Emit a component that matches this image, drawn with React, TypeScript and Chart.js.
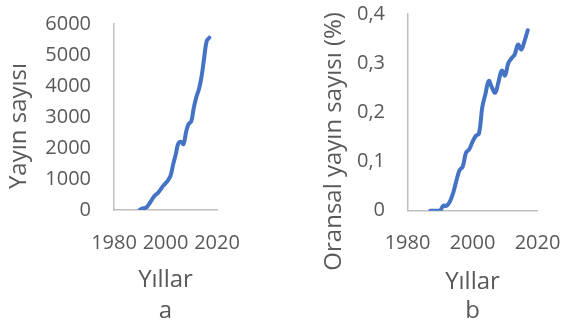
import React, { useEffect, useRef } from "react";
import { Chart, registerables } from "chart.js";

Chart.register(...registerables);

// ---- data ----
const yearsA = [1990, 1991, 1992, 1993, 1994, 1995, 1996, 1997, 1998, 1999, 2000, 2001, 2002, 2003, 2004, 2005, 2006, 2007, 2008, 2009, 2010, 2011, 2012, 2013, 2014, 2015, 2016, 2017];
const valuesA = [0, 50, 60, 120, 240, 370, 480, 545, 650, 770, 860, 960, 1120, 1480, 1800, 2150, 2200, 2130, 2520, 2780, 2860, 3300, 3650, 3900, 4300, 4900, 5450, 5560];

const yearsB = [1987, 1988, 1989, 1990, 1991, 1992, 1993, 1994, 1995, 1996, 1997, 1998, 1999, 2000, 2001, 2002, 2003, 2004, 2005, 2006, 2007, 2008, 2009, 2010, 2011, 2012, 2013, 2014, 2015, 2016, 2017];
const valuesB = [0, 0, 0, 0, 0.01, 0.01, 0.018, 0.035, 0.06, 0.082, 0.09, 0.118, 0.125, 0.14, 0.152, 0.157, 0.21, 0.238, 0.264, 0.25, 0.24, 0.262, 0.285, 0.275, 0.3, 0.31, 0.318, 0.338, 0.328, 0.345, 0.367];

const xAxisMin = 1980;
const xAxisMax = 2020;
const xAxisStep = 20;
const yMaxA = 6000;
const yStepA = 1000;
const yMaxB = 0.4;
const yStepB = 0.1;

const xTitle = "Yıllar";
const yTitleA = "Yayın sayısı";
const yTitleB = "Oransal yayın sayısı (%)";
const captionA = "a";
const captionB = "b";

// ---- style ----
const FONT = '"Open Sans", sans-serif';
const TEXT = "#595959";
const AXIS = "#bfbfbf";
const LINE = "#4472c4";
const TICK_SIZE = 20;
const TITLE_SIZE = 24;

Chart.defaults.font.family = FONT;
Chart.defaults.color = TEXT;

// shifts the built-in y-axis title vertically (Excel places it off-centre)
const titleShift = {
  id: "titleShift",
  beforeDraw(chart: any, _args: any, opts: any) {
    const scale: any = chart.scales.y;
    if (!scale || scale.__shifted) return;
    const orig = scale.drawTitle.bind(scale);
    scale.drawTitle = () => {
      const ctx = chart.ctx;
      ctx.save();
      ctx.translate(0, opts.dy || 0);
      orig();
      ctx.restore();
    };
    scale.__shifted = true;
  },
};

const noOverflow = (s: any) => {
  s.paddingTop = 0;
  s.paddingBottom = 0;
  s.paddingLeft = 0;
  s.paddingRight = 0;
};

type Cfg = {
  years: number[];
  values: number[];
  yMax: number;
  yStep: number;
  yTitle: string;
  caption: string;
  yWidth: number;
  xHeight: number;
  padTop: number;
  padRight: number;
  xTickPad: number;
  yTickPad: number;
  yTitlePad: number;
  capPad: number;
  titleDy: number;
  fmt: (v: number) => string;
};

function makeChart(canvas: HTMLCanvasElement, c: Cfg) {
  return new Chart(canvas, {
    type: "line",
    data: {
      datasets: [
        {
          data: c.years.map((y, i) => ({ x: y, y: c.values[i] })),
          borderColor: LINE,
          borderWidth: 4,
          pointRadius: 0,
          tension: 0.4,
          borderCapStyle: "round",
          borderJoinStyle: "round",
          fill: false,
        },
      ],
    },
    options: {
      animation: false,
      responsive: false,
      layout: { padding: { left: 0, top: c.padTop, right: c.padRight, bottom: 0 } },
      scales: {
        x: {
          type: "linear",
          min: xAxisMin,
          max: xAxisMax,
          grid: { display: false, drawTicks: false },
          border: { display: true, color: AXIS, width: 1.5 },
          ticks: { stepSize: xAxisStep, padding: c.xTickPad, font: { size: TICK_SIZE }, color: TEXT, maxRotation: 0, minRotation: 0, autoSkip: false, callback: (v: any) => String(v) },
          title: { display: true, text: xTitle, font: { size: TITLE_SIZE }, color: TEXT, padding: { top: 0, bottom: 0 } },
          afterFit: (s: any) => {
            noOverflow(s);
            s.height = c.xHeight;
          },
        },
        y: {
          type: "linear",
          min: 0,
          max: c.yMax,
          grid: { display: false, drawTicks: false },
          border: { display: true, color: AXIS, width: 1.5 },
          ticks: { stepSize: c.yStep, padding: c.yTickPad, font: { size: TICK_SIZE }, color: TEXT, autoSkip: false, callback: (v: any) => c.fmt(Number(v)) },
          title: { display: true, text: c.yTitle, font: { size: TITLE_SIZE }, color: TEXT, padding: { top: c.yTitlePad, bottom: 0 } },
          afterFit: (s: any) => {
            noOverflow(s);
            s.width = c.yWidth;
          },
        },
      },
      plugins: {
        legend: { display: false },
        tooltip: { enabled: false },
        title: { display: true, text: c.caption, position: "bottom", fullSize: false, font: { size: TITLE_SIZE, weight: "normal" }, color: TEXT, padding: { top: c.capPad, bottom: 0 } },
        titleShift: { dy: c.titleDy },
      } as any,
    },
    plugins: [titleShift],
  } as any);
}

export default function App() {
  const refA = useRef<HTMLCanvasElement>(null);
  const refB = useRef<HTMLCanvasElement>(null);

  useEffect(() => {
    const a = makeChart(refA.current!, {
      years: yearsA,
      values: valuesA,
      yMax: yMaxA,
      yStep: yStepA,
      yTitle: yTitleA,
      caption: captionA,
      yWidth: 114,
      xHeight: 84.4,
      padTop: 24,
      padRight: 33,
      xTickPad: 21,
      yTickPad: 23,
      yTitlePad: 4.5,
      capPad: 2.8,
      titleDy: 9,
      fmt: (v) => String(v),
    });
    const b = makeChart(refB.current!, {
      years: yearsB,
      values: valuesB,
      yMax: yMaxB,
      yStep: yStepB,
      yTitle: yTitleB,
      caption: captionB,
      yWidth: 107.5,
      xHeight: 85.7,
      padTop: 14,
      padRight: 25.5,
      xTickPad: 20.3,
      yTickPad: 22.5,
      yTitlePad: 19.5,
      capPad: 0.8,
      titleDy: 29,
      fmt: (v) => String(Math.round(v * 10) / 10).replace(".", ","),
    });
    return () => {
      a.destroy();
      b.destroy();
    };
  }, []);

  return (
    <div style={{ position: "fixed", left: 0, top: 0, width: 563, height: 326, background: "#fff" }}>
      <canvas ref={refA} width={250} height={326} style={{ position: "absolute", left: 0, top: 0 }} />
      <canvas ref={refB} width={263} height={326} style={{ position: "absolute", left: 300, top: 0 }} />
    </div>
  );
}
